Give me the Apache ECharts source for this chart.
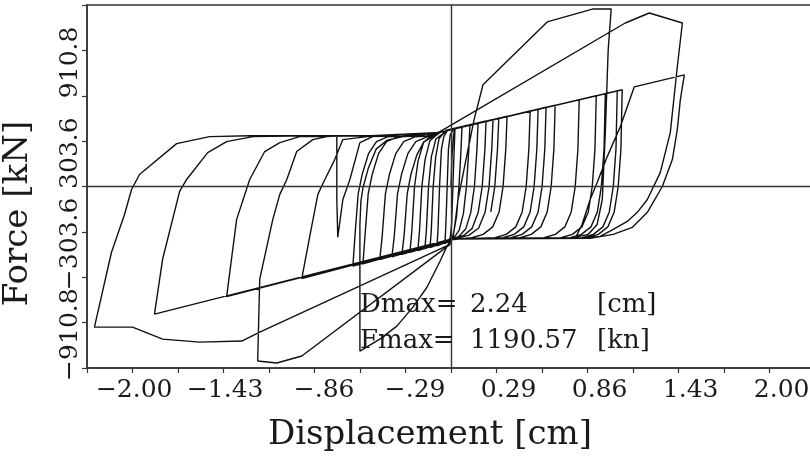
<!DOCTYPE html>
<html>
<head>
<meta charset="utf-8">
<script src="https://cdn.jsdelivr.net/npm/echarts@6/dist/echarts.min.js"></script>
<style>html,body{margin:0;padding:0;background:#fff}#c{width:810px;height:458px}</style>
</head>
<body>
<div id="c"></div>
<script>
// Tick labels
const xTickValues = [-2, -10/7, -6/7, -2/7, 2/7, 6/7, 10/7, 2];
const xTickLabels = ['−2.00', '−1.43', '−.86', '−.29', '0.29', '0.86', '1.43', '2.00'];
const yTickValues = [-910.8, -303.6, 303.6, 910.8];
const yTickLabels = ['−910.8', '−303.6', '303.6', '910.8'];

// Annotation
const annotNames = ['Dmax=', 'Fmax='];
const annotValues = ['2.24', '1190.57'];
const annotUnits = ['[cm]', '[kn]'];

// Hysteresis loops: [displacement cm, force kN]
const startPath = [[0,0],[0.006,200],[0.015,340],[0.025,390]];
const cyclesSmall = [
  [0.02,250],[0.012,0],[0.004,-250],[-0.005,-345],[-0.038,-384],[-0.032,-250],[-0.024,0],[-0.016,250],[-0.005,345],[0.02,389],[0.069,401],
  [0.063,250],[0.05,0],[0.035,-200],[0.015,-320],[0.0,-360],[-0.088,-397],[-0.082,-300],[-0.072,0],[-0.06,250],[-0.045,335],[-0.02,379],[0.119,413],
  [0.112,250],[0.097,0],[0.078,-180],[0.052,-290],[0.022,-338],[0.0,-358],[-0.132,-408],[-0.124,-300],[-0.112,0],[-0.096,200],[-0.075,320],[-0.05,352],[-0.02,379],[0.170,426],
  [0.163,250],[0.147,0],[0.124,-175],[0.092,-285],[0.05,-333],[0.0,-356],[-0.164,-416],[-0.155,-300],[-0.141,0],[-0.123,200],[-0.095,318],[-0.06,345],[-0.03,377],[0.22,438],
  [0.213,250],[0.196,0],[0.171,-172],[0.133,-280],[0.08,-328],[0.02,-348],[0.0,-360],[-0.208,-428],[-0.198,-300],[-0.183,0],[-0.163,180],[-0.133,305],[-0.1,336],[-0.069,362],[0.264,449],
  [0.256,250],[0.239,0],[0.214,-172],[0.174,-278],[0.114,-325],[0.044,-345],[0.0,-360],[-0.258,-440],[-0.246,-300],[-0.229,0],[-0.207,170],[-0.172,295],[-0.13,334],[-0.069,362],[0.352,470],
  [0.344,250],[0.327,0],[0.302,-170],[0.262,-270],[0.202,-320],[0.132,-343],[0.0,-356],[-0.308,-453],[-0.294,-320],[-0.275,-50],[-0.252,80],[-0.215,210],[-0.17,300],[-0.11,334],[-0.069,362],[0.497,506]
];
const cyclesMid = [
  [0.489,250],[0.472,0],[0.447,-170],[0.407,-270],[0.347,-320],[0.277,-343],[0.0,-352],[-0.371,-470],[-0.356,-330],[-0.336,-50],[-0.311,80],[-0.271,220],[-0.221,300],[-0.151,332],[-0.1,340],[-0.069,362],[0.547,518],
  [0.539,250],[0.522,0],[0.497,-170],[0.457,-270],[0.397,-320],[0.327,-343],[0.0,-352],[-0.447,-489],[-0.432,-330],[-0.412,-50],[-0.387,80],[-0.347,220],[-0.297,300],[-0.227,332],[-0.127,339],[-0.069,362],[0.597,530],
  [0.589,250],[0.572,0],[0.547,-170],[0.507,-270],[0.447,-320],[0.377,-343],[0.0,-352],[-0.553,-517],[-0.54,-330],[-0.52,-50],[-0.495,80],[-0.455,220],[-0.405,300],[-0.335,332],[-0.235,339],[-0.069,362],[0.654,544],
  [0.646,250],[0.629,0],[0.604,-170],[0.564,-270],[0.504,-320],[0.434,-343],[0.0,-352],[-0.616,-533],[-0.603,-330],[-0.583,-50],[-0.558,80],[-0.518,220],[-0.468,300],[-0.398,332],[-0.298,339],[-0.069,362],[0.805,581],
  [0.797,250],[0.78,0],[0.755,-170],[0.715,-270],[0.655,-320],[0.585,-343],[0.0,-352],[-0.937,-616],[-0.887,-334],[-0.836,-53],[-0.792,47],[-0.73,180],[-0.679,314],[-0.528,334],[-0.3,338],[-0.069,362],[0.912,607]
];
const cyclesLarge = [
  [0.904,250],[0.887,0],[0.862,-170],[0.822,-270],[0.762,-320],[0.692,-343],[0.0,-352],[-0.025,-400],[-0.069,-500],[-0.151,-674],[-0.239,-807],[-0.34,-934],[-0.447,-1021],[-0.572,-1101],
  [-0.572,-254],[-0.566,-100],[-0.553,-10],[-0.52,120],[-0.47,250],[-0.4,310],[-0.3,334],[-0.15,340],[-0.069,367],[1.094,1094],[1.245,1161],[1.453,1094],
  [1.421,801],[1.377,360],[1.314,93],[1.233,-87],[1.17,-173],[1.107,-234],[1.019,-287],[0.937,-334],[0.811,-347],[0.0,-352],
  [-1.862,-854],[-1.811,-487],[-1.704,-33],[-1.66,47],[-1.528,227],[-1.409,300],[-1.245,334],[-0.9,339],[-0.3,340],[-0.069,362],[0.969,621],
  [0.961,250],[0.944,0],[0.919,-170],[0.879,-270],[0.819,-320],[0.749,-343],[0.05,-350],[0.012,-352],[0.025,-250],[0.044,-87],[0.094,180],[0.145,447],[0.201,681],[0.604,1101],[0.893,1188],[1.006,1188],
  [0.987,914],[0.969,360],[0.95,-87],[0.918,-254],[0.862,-320],[0.748,-347],[0.0,-352],
  [-1.409,-737],[-1.346,-220],[-1.264,47],[-1.17,234],[-1.075,294],[-0.95,334],[-0.5,339],[-0.069,362],[1.044,640],
  [1.036,250],[1.019,0],[0.994,-170],[0.954,-270],[0.894,-320],[0.824,-343],[0.0,-352],[-0.006,-387],[-0.937,-1134],[-1.094,-1181],[-1.214,-1168],
  [-1.201,-620],[-1.119,-220],[-1.075,-53],[-1.031,47],[-0.969,234],[-0.868,314],[-0.78,334],[-0.717,338],[-0.717,-87],[-0.711,-340],[-0.679,-87],[-0.635,47],[-0.572,294],[-0.491,334],[-0.3,339],[-0.069,362],[1.075,647],
  [1.067,250],[1.05,0],[1.025,-170],[0.985,-270],[0.925,-320],[0.855,-343],[0.78,-347],[0.823,-254],[0.874,-87],[0.918,27],[0.981,200],[1.063,400],[1.151,667],[1.465,747],
  [1.44,580],[1.421,380],[1.39,180],[1.327,0],[1.233,-173],[1.138,-274],[1.019,-320],[0.874,-347],[0.0,-352],
  [-0.006,-387],[-1.201,-974],[-1.314,-1034],[-1.579,-1041],[-1.811,-1021],[-2.0,-941],[-2.239,-941],
  [-2.132,-440],[-2.05,-187],[-2.006,-20],[-1.956,80],[-1.723,287],[-1.516,334],[-1.264,340],[-0.5,340],[-0.069,362],[0.3,457],[0.292,250],[0.275,0],[0.25,-170]
];

const hysteresis = startPath.concat(cyclesSmall, cyclesMid, cyclesLarge);

const FONT = '"DejaVu Serif", serif';
const TXT = '#1a1a1a';

function xLabel(v) {
  for (let i = 0; i < xTickValues.length; i++) {
    if (Math.abs(v - xTickValues[i]) < 1e-6) return '{r|' + xTickLabels[i] + '}';
  }
  return '';
}
function yLabel(v) {
  for (let i = 0; i < yTickValues.length; i++) {
    if (Math.abs(v - yTickValues[i]) < 1e-3) return yTickLabels[i];
  }
  return '';
}

const chart = echarts.init(document.getElementById('c'), null, {renderer: 'canvas'});
chart.setOption({
  animation: false,
  backgroundColor: '#fff',
  grid: {left: 87, top: 5, width: 728, height: 363, outerBoundsMode: 'none', containLabel: false, show: true, borderColor: '#333', borderWidth: 1.5, backgroundColor: 'transparent'},
  xAxis: {
    type: 'value', min: -16/7, max: 16/7, interval: 2/7,
    axisLine: {onZero: false, lineStyle: {color: '#333', width: 1.5}},
    axisTick: {show: true, inside: false, length: 5, lineStyle: {color: '#333', width: 1.2}},
    splitLine: {show: false},
    axisLabel: {
      formatter: xLabel, margin: 10, color: TXT, fontFamily: FONT, fontSize: 25,
      rich: {r: {width: 80, align: 'right', fontFamily: FONT, fontSize: 25, color: TXT}}
    },
    name: 'Displacement [cm]', nameLocation: 'middle', nameGap: 50,
    nameTextStyle: {fontFamily: FONT, fontSize: 34, color: TXT, padding: [0, 42, 0, 0]}
  },
  yAxis: {
    type: 'value', min: -1214.4, max: 1214.4, interval: 303.6,
    axisLine: {onZero: false, lineStyle: {color: '#333', width: 1.5}},
    axisTick: {show: true, inside: false, length: 5, lineStyle: {color: '#333', width: 1.2}},
    splitLine: {show: false},
    axisLabel: {formatter: yLabel, rotate: 90, margin: 4, color: TXT, fontFamily: FONT, fontSize: 25, padding: [0, 24, 0, 0]},
    name: 'Force [kN]', nameLocation: 'middle', nameGap: 52,
    nameTextStyle: {fontFamily: FONT, fontSize: 34, color: TXT, padding: [0, 54, 0, 0]}
  },
  series: [{
    type: 'line', data: hysteresis, symbol: 'none', smooth: false,
    lineStyle: {color: '#111', width: 1.4},
    markLine: {
      silent: true, symbol: ['none', 'none'], label: {show: false},
      lineStyle: {color: '#333', width: 1.4, type: 'solid'},
      data: [{xAxis: 0}, {yAxis: 0}]
    }
  }],
  graphic: annotNames.map((n, i) => ({
    type: 'text', x: 360, y: 305 + i * 36, z: 10,
    style: {
      text: '{a|' + n + '}{b|' + annotValues[i] + '}{c|' + annotUnits[i] + '}',
      verticalAlign: 'middle', fill: TXT, fontFamily: FONT, fontSize: 26,
      rich: {
        a: {width: 110, fontFamily: FONT, fontSize: 26, color: TXT},
        b: {width: 127, fontFamily: FONT, fontSize: 26, color: TXT},
        c: {fontFamily: FONT, fontSize: 26, color: TXT}
      }
    }
  }))
});
</script>
</body>
</html>
